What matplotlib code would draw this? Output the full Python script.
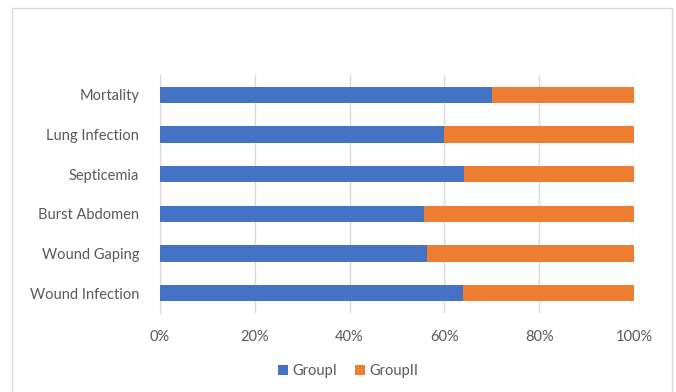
import matplotlib.pyplot as plt
from matplotlib.patches import Rectangle, Patch
import numpy as np

categories = ['Wound Infection', 'Wound Gaping', 'Burst Abdomen', 'Septicemia', 'Lung Infection', 'Mortality']
group1 = [63.9, 56.3, 55.6, 64.1, 59.9, 70.0]
group2 = [100 - v for v in group1]
xticks = [0, 20, 40, 60, 80, 100]

plt.rcParams['font.family'] = ['Lato', 'DejaVu Sans']
txt = '#595959'

fig = plt.figure(figsize=(6.76, 3.92), dpi=100)
ax = fig.add_axes([160/676, 1 - 313/392, 474/676, 238/392])

y = np.arange(len(categories))
ax.barh(y, group1, height=0.41, color='#4472C4', label='GroupI', zorder=3)
ax.barh(y, group2, left=group1, height=0.41, color='#ED7D31', label='GroupII', zorder=3)

ax.set_xlim(0, 100)
ax.set_ylim(-0.5, len(categories) - 0.5)
ax.set_xticks(xticks)
ax.set_xticklabels([f'{t}%' for t in xticks], color=txt, fontsize=10.5)
ax.set_yticks(y)
ax.set_yticklabels(categories, color=txt, fontsize=10.5)
ax.tick_params(axis='x', length=0, pad=12)
ax.tick_params(axis='y', length=0, pad=15)
ax.xaxis.grid(True, color='#d9d9d9', linewidth=1, zorder=0)
for s in ['top', 'right', 'bottom']:
    ax.spines[s].set_visible(False)
ax.spines['left'].set_color('#d9d9d9')

handles = [Patch(facecolor='#4472C4', label='GroupI'), Patch(facecolor='#ED7D31', label='GroupII')]
fig.legend(handles=handles, loc='center', bbox_to_anchor=(348/676, 1 - 371/392), ncol=2,
           frameon=False, fontsize=10.5, labelcolor=txt, handlelength=0.7, handleheight=0.7,
           handletextpad=0.3, columnspacing=1.2)

fig.patches.append(Rectangle((12/676, -0.01), 660/676, 1 - 8/392 + 0.01, transform=fig.transFigure,
                             fill=False, edgecolor='#d9d9d9', linewidth=1))

fig.savefig('out.png', dpi=100)
